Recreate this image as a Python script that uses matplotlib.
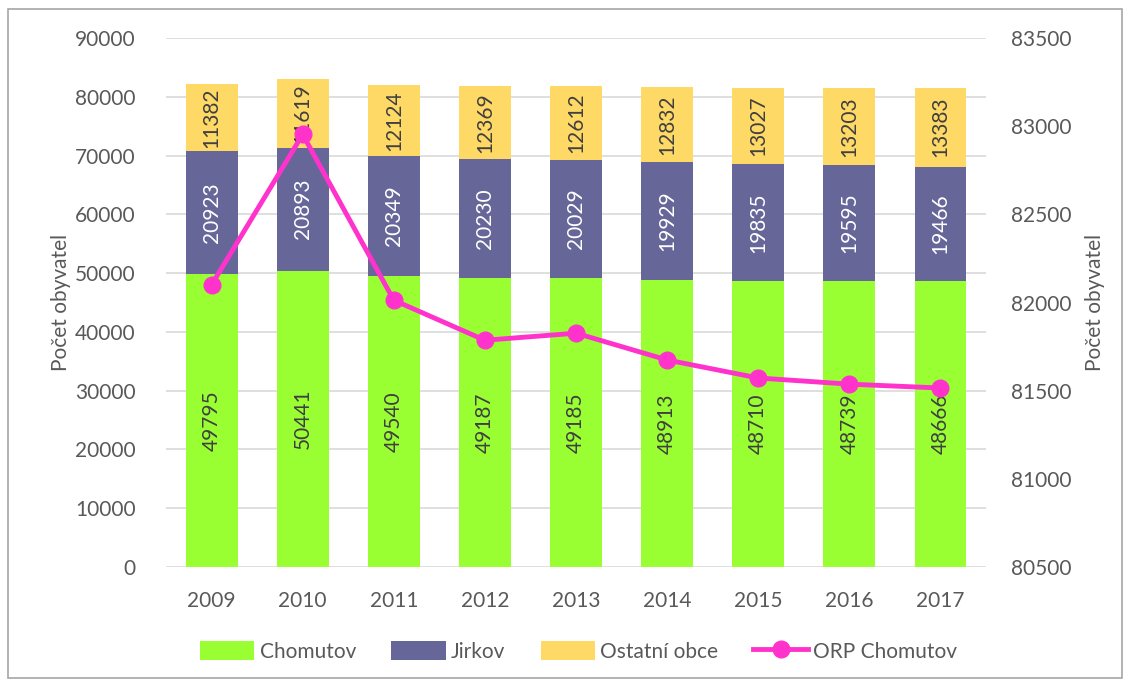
import matplotlib.pyplot as plt
import numpy as np
from matplotlib.patches import Rectangle

plt.rcParams['font.family'] = ['Lato', 'DejaVu Sans']

roky = ['2009', '2010', '2011', '2012', '2013', '2014', '2015', '2016', '2017']
chomutov = [49795, 50441, 49540, 49187, 49185, 48913, 48710, 48739, 48666]
jirkov = [20923, 20893, 20349, 20230, 20029, 19929, 19835, 19595, 19466]
ostatni = [11382, 11619, 12124, 12369, 12612, 12832, 13027, 13203, 13383]
orp = [82100, 82953, 82013, 81786, 81826, 81674, 81572, 81537, 81515]

c_chom = '#99FF33'
c_jirk = '#666699'
c_ost = '#FFD966'
c_orp = '#FF33CC'
txt = '#595959'

fig = plt.figure(figsize=(11.3, 6.82), dpi=100)
ax = fig.add_axes([0.1469, 0.1686, 0.7257, 0.7757])
ax2 = ax.twinx()

x = np.arange(len(roky))
w = 0.57
b1 = ax.bar(x, chomutov, w, color=c_chom, zorder=2, label='Chomutov')
b2 = ax.bar(x, jirkov, w, bottom=chomutov, color=c_jirk, zorder=2, label='Jirkov')
bot3 = np.array(chomutov) + np.array(jirkov)
b3 = ax.bar(x, ostatni, w, bottom=bot3, color=c_ost, zorder=2, label='Ostatní obce')

for i in range(len(roky)):
    ax.text(x[i], chomutov[i] / 2, str(chomutov[i]), rotation=90, ha='center', va='center',
            fontsize=15, color='#404040', zorder=3)
    ax.text(x[i], chomutov[i] + jirkov[i] / 2, str(jirkov[i]), rotation=90, ha='center',
            va='center', fontsize=15, color='white', zorder=3)
    ax.text(x[i], bot3[i] + ostatni[i] / 2, str(ostatni[i]), rotation=90, ha='center',
            va='center', fontsize=15, color='#404040', zorder=3)

ln, = ax2.plot(x, orp, color=c_orp, lw=3.5, marker='o', markersize=12, label='ORP Chomutov', zorder=4)

ax.set_xlim(-0.5, len(roky) - 0.5)
ax.set_ylim(0, 90000)
ax.set_yticks(np.arange(0, 90001, 10000))
ax2.set_ylim(80500, 83500)
ax2.set_yticks(np.arange(80500, 83501, 500))
ax.set_xticks(x)
ax.set_xticklabels(roky)

ax.yaxis.grid(True, color='#D9D9D9', lw=1.2, zorder=0)
ax.set_axisbelow(True)
for a in (ax, ax2):
    for s in a.spines.values():
        s.set_visible(False)
    a.tick_params(length=0, labelsize=15, colors=txt)
ax.tick_params(axis='y', pad=22)
ax2.tick_params(axis='y', pad=18)
ax.tick_params(axis='x', pad=17)

ax.set_ylabel('Počet obyvatel', fontsize=15, color=txt, labelpad=3)
ax2.set_ylabel('Počet obyvatel', fontsize=15, color=txt, labelpad=10)

fig.legend(handles=[b1, b2, b3, ln], loc='center', bbox_to_anchor=(0.512, 0.045), ncol=4,
           frameon=False, fontsize=15, labelcolor=txt, handlelength=2.6, handleheight=1.0,
           columnspacing=1.7, handletextpad=0.25)

fig.patches.append(Rectangle((0.007, 0.006), 0.986, 0.981, transform=fig.transFigure,
                             fill=False, edgecolor='#A6A6A6', lw=1.2))

fig.savefig('out.png', dpi=100)
